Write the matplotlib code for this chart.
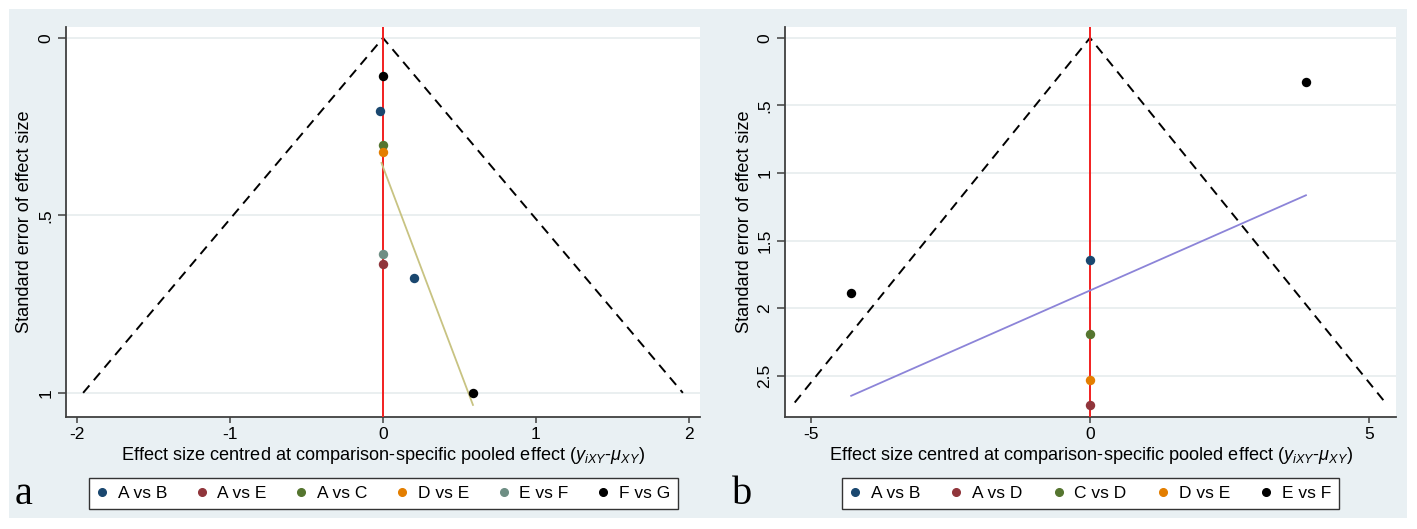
import matplotlib
matplotlib.use("Agg")
import matplotlib.pyplot as plt
from matplotlib import font_manager
from matplotlib.lines import Line2D
from matplotlib.patches import Rectangle

# --- panel a ---
a_groups = ["A vs B", "A vs E", "A vs C", "D vs E", "E vs F", "F vs G"]
a_colors = ["#1a476f", "#90353b", "#55752f", "#e37e00", "#6e8e84", "#000000"]
a_x = [-0.02, 0.20, 0.0, 0.0, 0.0, 0.0, 0.0, 0.59]
a_se = [0.205, 0.675, 0.637, 0.302, 0.321, 0.609, 0.108, 1.0]
a_grp = [0, 0, 1, 2, 3, 4, 5, 5]
a_fit_x = [-0.01, 0.588]
a_fit_se = [0.352, 1.034]
a_max_se = 1.0
a_yticks = [0, 0.5, 1]
a_yticklabels = ["0", ".5", "1"]
a_xticks = [-2, -1, 0, 1, 2]

# --- panel b ---
b_groups = ["A vs B", "A vs D", "C vs D", "D vs E", "E vs F"]
b_colors = ["#1a476f", "#90353b", "#55752f", "#e37e00", "#000000"]
b_x = [0.0, 0.0, 0.0, 0.0, 3.87, -4.28]
b_se = [1.648, 2.72, 2.19, 2.535, 0.326, 1.89]
b_grp = [0, 1, 2, 3, 4, 4]
b_fit_x = [-4.28, 3.87]
b_fit_se = [2.65, 1.165]
b_max_se = 2.7
b_yticks = [0, 0.5, 1, 1.5, 2, 2.5]
b_yticklabels = ["0", ".5", "1", "1.5", "2", "2.5"]
b_xticks = [-5, 0, 5]

z = 1.96

names = {f.name for f in font_manager.fontManager.ttflist}
narrow = "Liberation Sans Narrow" in names
fam = "Liberation Sans Narrow" if narrow else "Liberation Sans"
k = 1.0 if narrow else 0.93
plt.rcParams["font.family"] = [fam, "Liberation Sans", "DejaVu Sans"]
plt.rcParams["mathtext.fontset"] = "custom"
plt.rcParams["mathtext.rm"] = fam
plt.rcParams["mathtext.it"] = fam + ":italic"

W, H = 1417, 529
fig = plt.figure(figsize=(W / 100, H / 100), dpi=100)
fig.patch.set_facecolor("white")
fig.add_artist(Rectangle((9 / W, 11 / H), 1398 / W, 509 / H, transform=fig.transFigure,
                         facecolor="#e9f0f3", edgecolor="none", zorder=-10))

xlabel = r"Effect size centred at comparison-specific pooled effect ($y_{iXY}$-$\mu_{XY}$)"


def panel(rect, xs, ses, grps, groups, colors, fit_x, fit_se, fit_color, max_se,
          xlim, ylim, xticks, yticks, yticklabels, letter, letter_x, legend_cx, colsp):
    ax = fig.add_axes(rect)
    ax.set_facecolor("white")
    for y in yticks:
        ax.axhline(y, color="#e6ecee", lw=1.2, zorder=0)
    ax.plot([-z * max_se, 0, z * max_se], [max_se, 0, max_se], color="black",
            ls=(0, (5, 3.5)), lw=1.4, zorder=2)
    ax.axvline(0, color="#f21f1f", lw=1.4, zorder=3)
    ax.plot(fit_x, fit_se, color=fit_color, lw=1.3, zorder=3)
    for g in range(len(groups)):
        px = [xs[i] for i in range(len(xs)) if grps[i] == g]
        py = [ses[i] for i in range(len(ses)) if grps[i] == g]
        ax.scatter(px, py, s=46, color=colors[g], zorder=4, linewidths=0)
    ax.set_xlim(xlim)
    ax.set_ylim(ylim)
    ax.set_xticks(xticks)
    ax.set_xticklabels([str(t) for t in xticks])
    ax.set_yticks(yticks)
    ax.set_yticklabels(yticklabels, rotation=90, va="center")
    for s in ["top", "right"]:
        ax.spines[s].set_visible(False)
    for s in ["left", "bottom"]:
        ax.spines[s].set_color("#404040")
        ax.spines[s].set_linewidth(1.3)
    ax.tick_params(axis="y", length=6, width=1.1, color="#404040", pad=3, labelsize=13.5 * k)
    ax.tick_params(axis="x", length=4, width=1.1, color="#404040", pad=3, labelsize=13.5 * k)
    ax.set_xlabel(xlabel, fontsize=14 * k)
    ax.xaxis.set_label_coords(0.5, -0.1)
    ax.xaxis.label.set_va("center")
    ax.set_ylabel("Standard error of effect size", fontsize=14 * k)
    ax.yaxis.set_label_coords(-0.066, 0.5)
    ax.yaxis.label.set_va("center")

    handles = [Line2D([], [], marker="o", ls="none", color=c, markersize=5.5) for c in colors]
    fig.legend(handles, groups, loc="center", bbox_to_anchor=(legend_cx / W, 1 - 493.5 / H),
               ncol=len(groups), frameon=True, fancybox=False, edgecolor="#333333",
               framealpha=1, fontsize=13.5 * k, handlelength=0.6, handletextpad=0.6,
               columnspacing=colsp, borderpad=0.45)
    fig.text(letter_x / W, 1 - 494 / H, letter, family="Liberation Serif", fontsize=29,
             ha="center", va="center")
    return ax


panel([66 / W, 1 - 417 / H, 634 / W, 390 / H], a_x, a_se, a_grp, a_groups, a_colors,
      a_fit_x, a_fit_se, "#c8c382", a_max_se, (-2.072, 2.072), (1.068, -0.031),
      a_xticks, a_yticks, a_yticklabels, "a", 24, 383.5, 1.69)
panel([785 / W, 1 - 417 / H, 611 / W, 390 / H], b_x, b_se, b_grp, b_groups, b_colors,
      b_fit_x, b_fit_se, "#8c84d8", b_max_se, (-5.466, 5.484), (2.807, -0.081),
      b_xticks, b_yticks, b_yticklabels, "b", 742, 1090.5, 1.78)

fig.savefig("out.png", dpi=100, facecolor="white")
